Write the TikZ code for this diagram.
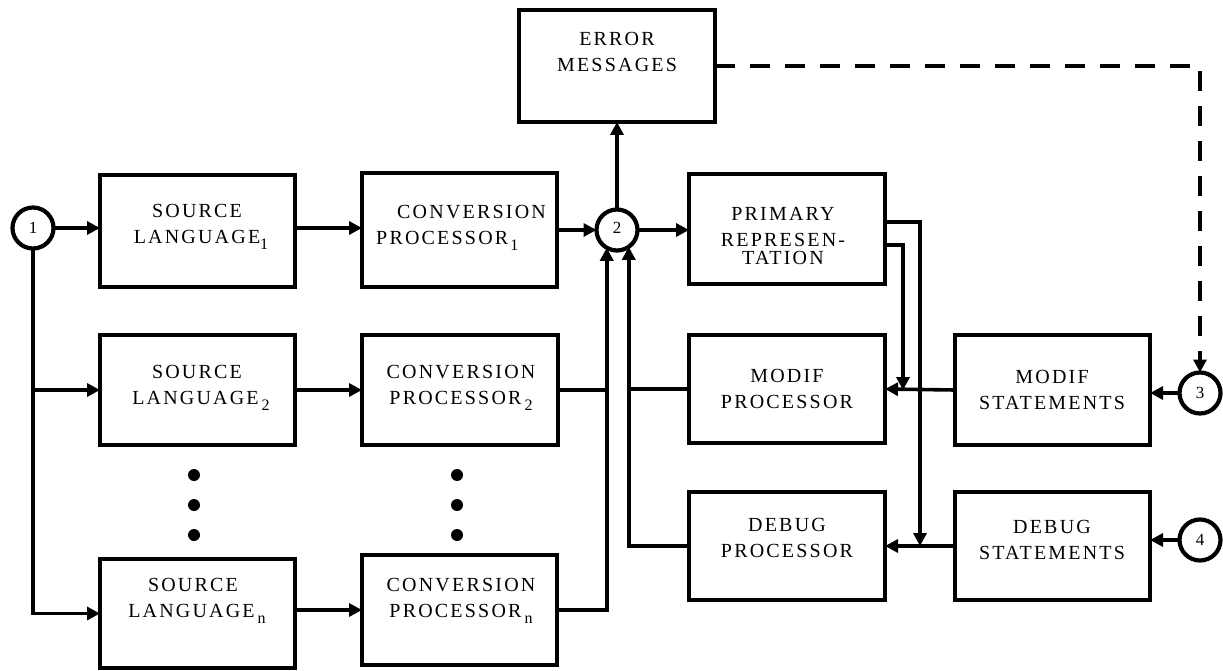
\documentclass[tikz,border=0pt]{standalone}
\usepackage{fontspec}
\setmainfont{Liberation Serif}
\newfontfamily\boxfont[LetterSpace=11]{Liberation Serif}
\usetikzlibrary{arrows.meta,calc}
\newcommand{\sbs}[1]{\raisebox{-6pt}{\fontsize{16}{16}\selectfont #1}}
\begin{document}
\begin{tikzpicture}[x=1pt,y=-1pt,
  box/.style={draw, line width=4.4pt, inner sep=0pt, outer sep=0pt},
  circ/.style={draw, circle, line width=4.2pt, minimum size=41pt, inner sep=0pt, outer sep=0pt, font=\fontsize{17}{17}\selectfont},
  lbl/.style={align=center, font=\boxfont\fontsize{20}{26}\selectfont, inner sep=0pt},
  conn/.style={line width=3.6pt},
  arr/.style={conn, -{Triangle[length=13pt,width=13pt]}},
  dot/.style={circle, fill, inner sep=0pt, minimum size=12pt},
]
\useasboundingbox[fill=white] (0,0) rectangle (1223,671);

% circles
\node[circ] (c1) at (33,228) {1};
\node[circ] (c2) at (617,230) {\raisebox{5pt}{2}};
\node[circ] (c3) at (1200,393) {3};
\node[circ] (c4) at (1200,540) {4};

% boxes
\node[box, minimum width=195pt, minimum height=112pt] (SL1) at (197.5,231) {};
\node[box, minimum width=195pt, minimum height=114pt] (CP1) at (459.5,230) {};
\node[box, minimum width=196pt, minimum height=110pt] (PR)  at (787,229) {};
\node[box, minimum width=196pt, minimum height=112pt] (ERR) at (617,66) {};
\node[box, minimum width=195pt, minimum height=110pt] (SL2) at (197.5,390) {};
\node[box, minimum width=196pt, minimum height=110pt] (CP2) at (460,390) {};
\node[box, minimum width=196pt, minimum height=108pt] (MODP) at (787,389) {};
\node[box, minimum width=195pt, minimum height=110pt] (MODS) at (1052.5,390) {};
\node[box, minimum width=196pt, minimum height=108pt] (DEBP) at (787,546) {};
\node[box, minimum width=195pt, minimum height=108pt] (DEBS) at (1052.5,546) {};
\node[box, minimum width=195pt, minimum height=109pt] (SLn) at (197.5,613.5) {};
\node[box, minimum width=195pt, minimum height=110pt] (CPn) at (459.5,610) {};

% texts
\node[lbl] (tSL1) at (197,227) {SOURCE\\LANGUAGE\rlap{\sbs{1}}};
\node[lbl, align=left, anchor=west] (tCP1) at (376,228) {\hspace*{21pt}CONVERSION\\PROCESSOR\kern2pt\sbs{1}};
\node[lbl] (tERR) at (617,52) {ERROR\\MESSAGES};
\node[lbl] (tPR) at (783,236) {PRIMARY\\REPRESEN-\\[-8pt]TATION};
\node[lbl] (tSL2) at (197,388) {SOURCE\\LANGUAGE\kern3pt\rlap{\sbs{2}}};
\node[lbl] (tCP2) at (461,388) {CONVERSION\\PROCESSOR\kern3pt\sbs{2}};
\node[lbl] (tMODP) at (787,389) {MODIF\\PROCESSOR};
\node[lbl] (tMODS) at (1052,390) {MODIF\\STATEMENTS};
\node[lbl] (tDEBP) at (787,538) {DEBUG\\PROCESSOR};
\node[lbl] (tDEBS) at (1052,540) {DEBUG\\STATEMENTS};
\node[lbl] (tSLn) at (193,601) {SOURCE\\LANGUAGE\kern3pt\rlap{\sbs{n}}};
\node[lbl] (tCPn) at (461,601) {CONVERSION\\PROCESSOR\kern3pt\sbs{n}};

% dots
\node[dot] (d1) at (194,475) {};
\node[dot] (d2) at (194,505) {};
\node[dot] (d3) at (194,535) {};
\node[dot] (d4) at (457,475) {};
\node[dot] (d5) at (457,505) {};
\node[dot] (d6) at (457,535) {};

% bus coordinates
\coordinate (bx1) at (920,0);
\coordinate (bx2) at (903,0);

% connectors left
\draw[arr] (c1.east) -- (c1.east -| SL1.west);
\draw[arr] (c1.south) |- (SLn.west);
\draw[arr] (c1.south |- SL2.west) -- (SL2.west);
\draw[arr] (SL1.east |- c1.east) -- (CP1.west |- c1.east);
\draw[arr] (SL2.east) -- (CP2.west |- SL2.east);
\draw[arr] (SLn.east |- CPn.east) -- (CPn.west);
\draw[arr] (CP1.east |- c2.west) -- (c2.west);
\draw[arr] (c2.north) -- (ERR.south);
\draw[arr] (c2.east) -- (c2.east -| PR.west);

% buses into circle 2
\draw[arr] (CPn.east) -| (c2.240);
\draw[conn] (CP2.east) -- (CP2.east -| c2.240);
\draw[arr] (DEBP.west) -| (c2.305);
\draw[conn] (MODP.west) -- (MODP.west -| c2.305);

% right side
\draw[arr] ([yshift=7pt]PR.east) -| (bx1 |- DEBS.west);
\draw[arr] ([yshift=-16pt]PR.east) -| (bx2 |- MODS.west);
\draw[arr] (MODS.west) -- (MODP.east);
\draw[arr] (DEBS.west) -- (DEBP.east);
\draw[arr] (c3.west) -- (c3.west -| MODS.east);
\draw[arr] (c4.west) -- (c4.west -| DEBS.east);
\draw[arr, line width=4pt, dash pattern=on 20pt off 15pt] (ERR.east) -| (c3.north);
\end{tikzpicture}
\end{document}
